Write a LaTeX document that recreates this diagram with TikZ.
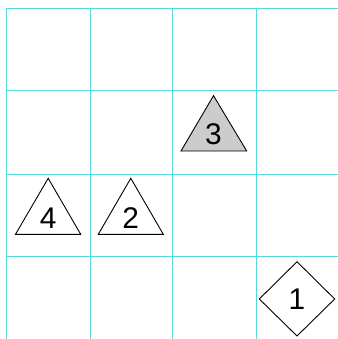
\documentclass[tikz,border=0pt]{standalone}
\usepackage{fontspec}
\setmainfont{Liberation Sans}
\begin{document}
\begin{tikzpicture}[x=1bp,y=-1bp,
  gridline/.style={draw={rgb,255:red,0;green,255;blue,255},line width=1bp},
  piece/.style={draw=black,line width=0.9bp,line join=miter},
  num/.style={font=\fontsize{30}{30}\selectfont,inner sep=0pt}]
\useasboundingbox (0,0) rectangle (338,339);
\fill[white] (0,0) rectangle (338,339);
% grid
\foreach \x in {6.5,90,172.5,256} \draw[gridline] (\x,8) -- (\x,339);
\foreach \y in {8.5,90.5,174.5,256.5} \draw[gridline] (6,\y) -- (338,\y);
% triangle 3 (grey)
\path[piece,fill={rgb,255:red,204;green,204;blue,204}] (213.5,95.7) -- (246.7,151) -- (181,151) -- cycle;
\node[num] (n3) at (213.5,134) {3};
% triangle 4
\path[piece,fill=white] (48.2,178.3) -- (80.7,234.3) -- (15.5,234.3) -- cycle;
\node[num] (n4) at (48.2,218) {4};
% triangle 2
\path[piece,fill=white] (130.8,178.3) -- (163.3,234.3) -- (98.3,234.3) -- cycle;
\node[num] (n2) at (130.8,218) {2};
% diamond 1
\path[piece,fill=white] (297,261.7) -- (334.7,299) -- (297,336) -- (259.3,299) -- cycle;
\node[num] (n1) at (297,299) {1};
\end{tikzpicture}
\end{document}
